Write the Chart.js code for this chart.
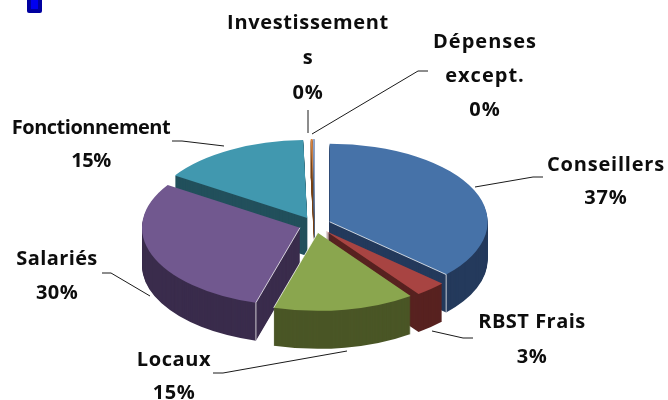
<!DOCTYPE html>
<html lang="fr">
<head>
<meta charset="utf-8">
<title>Répartition des dépenses</title>
<script src="https://cdn.jsdelivr.net/npm/chart.js@4/dist/chart.umd.js"></script>
<style>
    html, body { margin: 0; padding: 0; background: #fff; overflow: hidden; }
    canvas { display: block; }
</style>
</head>
<body>
<canvas id="pie" width="668" height="400"></canvas>
<script>
// Catégories et valeurs (en %)
const categories = ['Conseillers', 'RBST Frais', 'Locaux', 'Salariés', 'Fonctionnement', 'Investissement', 'Dépenses except.'];
const values = [36.8, 3.2, 14.5, 29.7, 15.4, 0.2, 0.2];

const topColors = ['#4672a8', '#a84442', '#8aa64e', '#71588f', '#4198af', '#db843d', '#93a9cf'];
const sideColors = ['#243a5c', '#582220', '#4a5626', '#3a2c4c', '#22505c', '#7a4418', '#52607a'];

// Texte de chaque étiquette, découpé comme sur l'original
const labelLines = [
    ['Conseillers'], ['RBST Frais'], ['Locaux'], ['Salariés'],
    ['Fonctionnement'], ['Investissement', 's'], ['Dépenses', 'except.']
];
// Centre x + y de la première ligne, interligne, espacement des lettres
const labelPlace = [
    [606, 165, 33, 0.8], [532, 322, 35, 0.5], [174, 360, 33, 0.6], [57, 259, 34, 0.4],
    [91, 128, 33, -0.5], [308, 23, 35, 0.65], [485, 42, 34, 1]
];
const leaders = [
    [[475, 187], [533, 177], [543, 177]],
    [[432, 331], [463, 338], [473, 338]],
    [[347, 351], [223, 373], [213, 373]],
    [[150, 296], [111, 273], [102, 273]],
    [[224, 146], [182, 141], [172, 141]],
    [[308, 133], [308, 110]],
    [[312, 134], [418, 71], [428, 71]]
];

// Réglages de la fausse 3D
const SQUASH = 0.494;
const DEPTH = 38;
const EXPLODE = 16;
const drawOrder = [4, 5, 6, 0, 3, 1, 2]; // de l'arrière vers l'avant
// Liserés blancs : bord de la part (side) et/ou arête verticale (vert)
const whiteEdges = [
    { slice: 0, side: 'endAngle', vert: true },
    { slice: 2, side: 'endAngle', vert: false },
    { slice: 3, side: 'startAngle', vert: true }
];

function sectorPath(ctx, arc) {
    ctx.beginPath();
    ctx.moveTo(arc.x, arc.y);
    ctx.arc(arc.x, arc.y, arc.outerRadius, arc.startAngle, arc.endAngle);
    ctx.closePath();
}

function explodeOffset(arc) {
    const mid = (arc.startAngle + arc.endAngle) / 2;
    return [Math.cos(mid) * EXPLODE, Math.sin(mid) * EXPLODE * SQUASH];
}

const pie3d = {
    id: 'pie3d',
    // on remplace le dessin normal du dataset
    beforeDatasetDraw(chart) {
        const ctx = chart.ctx;
        const arcs = chart.getDatasetMeta(0).data;

        drawOrder.forEach(i => {
            const arc = arcs[i];
            const [dx, dy] = explodeOffset(arc);

            const place = (down) => {
                ctx.translate(arc.x + dx, arc.y + dy + down);
                ctx.scale(1, SQUASH);
                ctx.translate(-arc.x, -arc.y);
            };

            // épaisseur : la même part empilée en couleur sombre
            ctx.fillStyle = sideColors[i];
            for (let d = DEPTH; d > 0; d--) {
                ctx.save();
                place(d);
                sectorPath(ctx, arc);
                ctx.fill();
                ctx.restore();
            }

            // dessus de la part
            ctx.save();
            place(0);
            arc.draw(ctx);
            ctx.restore();

            // liserés
            const edge = whiteEdges.find(e => e.slice === i);
            if (edge) {
                const a = arc[edge.side];
                const ax = arc.x + dx, ay = arc.y + dy;
                const px = ax + Math.cos(a) * arc.outerRadius;
                const py = ay + Math.sin(a) * arc.outerRadius * SQUASH;
                ctx.save();
                ctx.strokeStyle = 'rgba(255,255,255,0.75)';
                ctx.lineWidth = 1;
                ctx.beginPath();
                ctx.moveTo(ax, ay);
                ctx.lineTo(px, py);
                if (edge.vert) ctx.lineTo(px, py + DEPTH);
                ctx.stroke();
                ctx.restore();
            }
        });
        return false;
    },
    afterDraw(chart) {
        const ctx = chart.ctx;
        ctx.save();

        // petit repère bleu en haut à gauche
        ctx.fillStyle = '#0000a0';
        ctx.beginPath();
        ctx.roundRect(27, -4, 15, 17, 2);
        ctx.fill();
        ctx.fillStyle = '#0000f0';
        ctx.fillRect(31, 0, 7, 9);

        // traits de rappel
        ctx.strokeStyle = '#1a1a1a';
        ctx.lineWidth = 1;
        leaders.forEach(pts => {
            ctx.beginPath();
            pts.forEach((p, k) => k ? ctx.lineTo(p[0], p[1]) : ctx.moveTo(p[0], p[1]));
            ctx.stroke();
        });

        // étiquettes
        ctx.fillStyle = '#0d0d0d';
        ctx.font = 'bold 20px "Open Sans"';
        ctx.textAlign = 'center';
        ctx.textBaseline = 'middle';
        categories.forEach((c, i) => {
            const [x, y, step, spacing] = labelPlace[i];
            ctx.letterSpacing = spacing + 'px';
            const lines = [...labelLines[i], Math.round(values[i]) + '%'];
            lines.forEach((txt, k) => ctx.fillText(txt, x, y + k * step));
        });
        ctx.restore();
    }
};

new Chart(document.getElementById('pie'), {
    type: 'pie',
    data: {
        labels: categories,
        datasets: [{
            data: values,
            backgroundColor: topColors,
            borderWidth: 0
        }]
    },
    options: {
        responsive: false,
        animation: false,
        radius: 158,
        layout: { padding: { top: 50, right: 38 } },
        plugins: {
            legend: { display: false },
            tooltip: { enabled: false }
        }
    },
    plugins: [pie3d]
});
</script>
</body>
</html>
